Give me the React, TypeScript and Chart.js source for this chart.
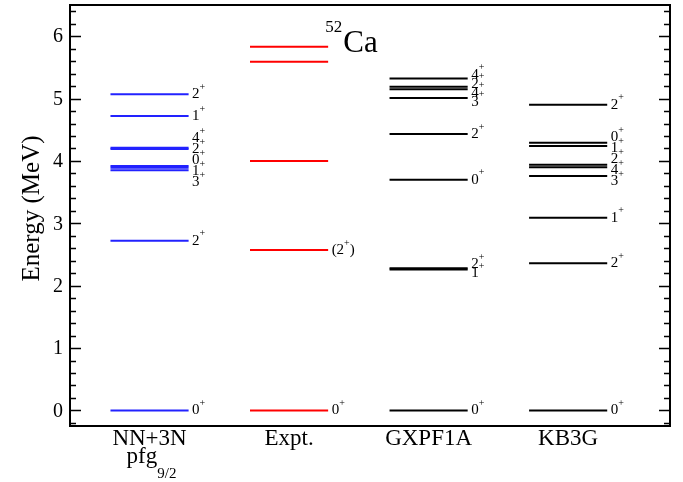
import React, { useEffect, useRef } from "react";
import { Chart, registerables } from "chart.js";

Chart.register(...registerables);

// ---- data ----
const columnNames = ["NN+3N", "Expt.", "GXPF1A", "KB3G"];
const columnSecondLine = ["pfg", "", "", ""];
const columnSecondSub = ["9/2", "", "", ""];

const nn3nEnergies = [0, 2.72, 3.85, 3.89, 3.92, 4.19, 4.21, 4.72, 5.07];
const nn3nLabels = ["0+", "2+", "3+", "1+", "0+", "2+", "4+", "1+", "2+"];

const exptEnergies = [0, 2.57, 4.0, 5.59, 5.83];
const exptLabels = ["0+", "(2+)", "", "", ""];

const gxpf1aEnergies = [0, 2.26, 2.28, 3.7, 4.43, 5.01, 5.15, 5.19, 5.32];
const gxpf1aLabels = ["0+", "1+", "2+", "0+", "2+", "3+", "4+", "2+", "4+"];

const kb3gEnergies = [0, 2.36, 3.09, 3.76, 3.9, 3.94, 4.24, 4.29, 4.9];
const kb3gLabels = ["0+", "2+", "1+", "3+", "4+", "2+", "1+", "0+", "2+"];

const yTicks = [0, 1, 2, 3, 4, 5, 6];
const yTitle = "Energy (MeV)";
const nucleusMass = "52";
const nucleusSymbol = "Ca";

// ---- styles ----
const columnEnergies = [nn3nEnergies, exptEnergies, gxpf1aEnergies, kb3gEnergies];
const columnLabels = [nn3nLabels, exptLabels, gxpf1aLabels, kb3gLabels];
const columnColors = ["#2222ff", "#ff0000", "#000000", "#000000"];
const labelGaps = [11, 11, 9, 11];
const LINE_START = 0.29;
const LINE_END = 0.85;
const LABEL_OFFSET = 0.875;
const CENTER_OFFSET = 0.57;
const SERIF = "'Liberation Serif', 'Times New Roman', serif";

function drawSpin(ctx: CanvasRenderingContext2D, text: string, x: number, y: number) {
  let cx = x;
  for (const ch of text) {
    if (ch === "+" || ch === "-") {
      ctx.font = `10px ${SERIF}`;
      ctx.fillText(ch, cx, y - 7);
      cx += ctx.measureText(ch).width;
    } else {
      ctx.font = `15px ${SERIF}`;
      ctx.fillText(ch, cx, y);
      cx += ctx.measureText(ch).width;
    }
  }
}

const decorPlugin = {
  id: "decor",
  afterDraw(chart: any) {
    const ctx: CanvasRenderingContext2D = chart.ctx;
    const { left, right, top, bottom } = chart.chartArea;
    const xs = chart.scales.x;
    const ys = chart.scales.y;
    ctx.save();

    // frame
    ctx.strokeStyle = "#000";
    ctx.lineWidth = 2;
    ctx.strokeRect(left, top, right - left, bottom - top);

    // inward ticks (left & right)
    ctx.lineWidth = 1.5;
    for (let k = -5; k <= 40; k++) {
      const v = k * 0.2;
      if (v < ys.min || v > ys.max) continue;
      const py = Math.round(ys.getPixelForValue(v)) + 0.5;
      const len = k % 5 === 0 ? 11 : 6;
      ctx.beginPath();
      ctx.moveTo(left, py);
      ctx.lineTo(left + len, py);
      ctx.moveTo(right, py);
      ctx.lineTo(right - len, py);
      ctx.stroke();
    }

    // y tick labels
    ctx.fillStyle = "#000";
    ctx.font = `20px ${SERIF}`;
    ctx.textAlign = "right";
    ctx.textBaseline = "middle";
    yTicks.forEach((v) => {
      ctx.fillText(String(v), left - 7, ys.getPixelForValue(v) + 1);
    });

    // level labels
    ctx.textAlign = "left";
    ctx.textBaseline = "middle";
    columnEnergies.forEach((energies, c) => {
      const items = energies
        .map((e, i) => ({ y: ys.getPixelForValue(e), text: columnLabels[c][i] }))
        .filter((it) => it.text !== "")
        .sort((a, b) => a.y - b.y);
      const gap = labelGaps[c];
      for (let iter = 0; iter < 200; iter++) {
        for (let i = 0; i < items.length - 1; i++) {
          const d = items[i + 1].y - items[i].y;
          if (d < gap) {
            const s = (gap - d) / 2;
            items[i].y -= s;
            items[i + 1].y += s;
          }
        }
      }
      const lx = xs.getPixelForValue(c + LABEL_OFFSET);
      items.forEach((it) => drawSpin(ctx, it.text, lx, it.y));
    });

    // column names
    ctx.textBaseline = "alphabetic";
    columnNames.forEach((name, c) => {
      const cx = xs.getPixelForValue(c + CENTER_OFFSET);
      ctx.font = `23px ${SERIF}`;
      ctx.textAlign = "center";
      ctx.fillText(name, cx, bottom + 19);
      if (columnSecondLine[c]) {
        ctx.font = `23px ${SERIF}`;
        const w1 = ctx.measureText(columnSecondLine[c]).width;
        ctx.font = `15px ${SERIF}`;
        const w2 = ctx.measureText(columnSecondSub[c]).width;
        const start = cx - (w1 + w2) / 2 + 2;
        ctx.textAlign = "left";
        ctx.font = `23px ${SERIF}`;
        ctx.fillText(columnSecondLine[c], start, bottom + 37);
        ctx.font = `15px ${SERIF}`;
        ctx.fillText(columnSecondSub[c], start + w1, bottom + 52);
      }
    });

    // nucleus title
    ctx.textAlign = "left";
    const tx = xs.getPixelForValue(1.83);
    const ty = ys.getPixelForValue(5.74);
    ctx.font = `17px ${SERIF}`;
    ctx.fillText(nucleusMass, tx, ty - 20);
    const wm = ctx.measureText(nucleusMass).width;
    ctx.font = `31px ${SERIF}`;
    ctx.fillText(nucleusSymbol, tx + wm + 1, ty);

    // y title
    ctx.save();
    ctx.translate(38.5, (top + bottom) / 2 - 7);
    ctx.rotate(-Math.PI / 2);
    ctx.font = `25px ${SERIF}`;
    ctx.textAlign = "center";
    ctx.textBaseline = "alphabetic";
    ctx.fillText(yTitle, 0, 0);
    ctx.restore();

    ctx.restore();
  },
};

export default function App() {
  const canvasRef = useRef<HTMLCanvasElement | null>(null);

  useEffect(() => {
    if (!canvasRef.current) return;
    const datasets: any[] = [];
    columnEnergies.forEach((energies, c) => {
      energies.forEach((e) => {
        datasets.push({
          data: [
            { x: c + LINE_START, y: e },
            { x: c + LINE_END, y: e },
          ],
          borderColor: columnColors[c],
          backgroundColor: columnColors[c],
          borderWidth: 2,
          pointRadius: 0,
          showLine: true,
          fill: false,
        });
      });
    });

    const chart = new Chart(canvasRef.current, {
      type: "scatter",
      data: { datasets },
      options: {
        animation: false,
        responsive: false,
        events: [],
        layout: { padding: { left: 0, right: 13, top: 5, bottom: 56 } },
        plugins: {
          legend: { display: false },
          tooltip: { enabled: false },
          title: { display: false },
        },
        scales: {
          x: {
            type: "linear",
            min: 0,
            max: 4.3,
            display: false,
          },
          y: {
            type: "linear",
            min: -0.25,
            max: 6.5,
            grid: { display: false, drawTicks: false },
            border: { display: false },
            afterFit: (scale: any) => {
              scale.width = 70;
            },
            afterBuildTicks: (scale: any) => {
              scale.ticks = yTicks.map((v) => ({ value: v }));
            },
            ticks: { display: false },
          },
        },
      } as any,
      plugins: [decorPlugin],
    });
    return () => chart.destroy();
  }, []);

  return (
    <div style={{ position: "fixed", left: 0, top: 0, width: 683, height: 482, background: "#fff" }}>
      <canvas ref={canvasRef} width={683} height={482} style={{ display: "block" }} />
    </div>
  );
}
